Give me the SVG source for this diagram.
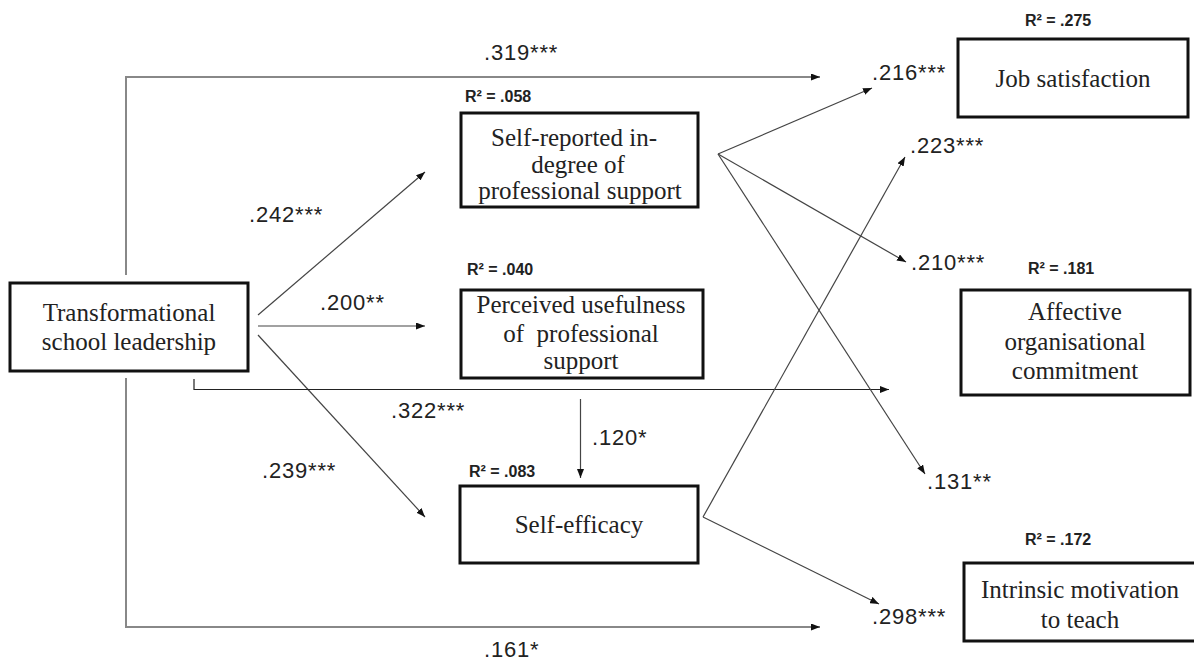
<svg xmlns="http://www.w3.org/2000/svg" width="1194" height="664" viewBox="0 0 1194 664">
<defs>
<marker id="arr" markerWidth="9" markerHeight="7" refX="9" refY="3.5" orient="auto" markerUnits="userSpaceOnUse">
<path d="M0,0 L9,3.5 L0,7 z" fill="#111"/>
</marker>
<style>
.box{fill:#fff;stroke:#111;stroke-width:3}
.nt{font-family:"Liberation Serif","Times New Roman",serif;font-size:25px;fill:#222;text-anchor:middle}
.r2{font-family:"Liberation Sans",Arial,sans-serif;font-size:16px;font-weight:bold;fill:#222}
.cf{font-family:"Liberation Sans",Arial,sans-serif;font-size:22px;fill:#222;letter-spacing:0.8px}
.ln{fill:none;stroke:#444;stroke-width:1.2}
.lg{fill:none;stroke:#888;stroke-width:2}
</style>
</defs>
<rect width="1194" height="664" fill="#fff"/>

<g id="connectors">
<polyline class="lg" points="126,275 126,77 820,77" marker-end="url(#arr)"/>
<polyline class="lg" points="126,378 126,627 820,627" marker-end="url(#arr)"/>
<line class="ln" x1="258" y1="315" x2="425" y2="172" marker-end="url(#arr)"/>
<line class="ln" x1="258" y1="326" x2="425" y2="326" marker-end="url(#arr)"/>
<line class="ln" x1="258" y1="335" x2="425" y2="517" marker-end="url(#arr)"/>
<polyline class="ln" points="194,379 194,389.5 889,389.5" marker-end="url(#arr)" style="stroke:#222"/>
<line class="ln" x1="580.5" y1="399" x2="580.5" y2="478" marker-end="url(#arr)"/>
<line class="ln" x1="718" y1="154" x2="872" y2="88" marker-end="url(#arr)"/>
<line class="ln" x1="718" y1="154" x2="906" y2="262" marker-end="url(#arr)"/>
<line class="ln" x1="718" y1="154" x2="925" y2="474" marker-end="url(#arr)"/>
<line class="ln" x1="703" y1="517" x2="905" y2="157" marker-end="url(#arr)"/>
<line class="ln" x1="703" y1="517" x2="879" y2="604" marker-end="url(#arr)"/>
<text class="cf" x="484" y="60">.319***</text>
<text class="cf" x="249" y="222">.242***</text>
<text class="cf" x="320" y="310">.200**</text>
<text class="cf" x="262" y="478">.239***</text>
<text class="cf" x="391" y="418">.322***</text>
<text class="cf" x="592" y="445">.120*</text>
<text class="cf" x="484" y="657">.161*</text>
<text class="cf" x="872" y="80">.216***</text>
<text class="cf" x="910" y="153">.223***</text>
<text class="cf" x="911" y="270">.210***</text>
<text class="cf" x="927" y="489">.131**</text>
<text class="cf" x="872" y="624">.298***</text>
</g>

<g id="node-tsl">
<rect class="box" x="10" y="283" width="238" height="88"/>
<text class="nt" x="129" y="321">Transformational</text>
<text class="nt" x="129" y="350">school leadership</text>
</g>

<g id="node-selfreported">
<text class="r2" x="465" y="102">R² = .058</text>
<rect class="box" x="461" y="113" width="237" height="94"/>
<text class="nt" x="574" y="146">Self-reported in-</text>
<text class="nt" x="578" y="173">degree of</text>
<text class="nt" x="580" y="199">professional support</text>
</g>

<g id="node-perceived">
<text class="r2" x="467" y="275">R² = .040</text>
<rect class="box" x="461" y="290" width="242" height="88"/>
<text class="nt" x="581" y="313">Perceived usefulness</text>
<text class="nt" x="581" y="342" style="white-space:pre">of  professional</text>
<text class="nt" x="581" y="369">support</text>
</g>

<g id="node-selfefficacy">
<text class="r2" x="469" y="477">R² = .083</text>
<rect class="box" x="460" y="486" width="238" height="77"/>
<text class="nt" x="579" y="533">Self-efficacy</text>
</g>

<g id="node-jobsat">
<text class="r2" x="1025" y="26">R² = .275</text>
<rect class="box" x="958" y="39" width="230" height="78"/>
<text class="nt" x="1073" y="87">Job satisfaction</text>
</g>

<g id="node-affective">
<text class="r2" x="1028" y="274">R² = .181</text>
<rect class="box" x="961" y="290" width="229" height="105"/>
<text class="nt" x="1075" y="320">Affective</text>
<text class="nt" x="1075" y="350">organisational</text>
<text class="nt" x="1075" y="379">commitment</text>
</g>

<g id="node-intrinsic">
<text class="r2" x="1025" y="545">R² = .172</text>
<rect class="box" x="964" y="563" width="232" height="78"/>
<text class="nt" x="1080" y="598">Intrinsic motivation</text>
<text class="nt" x="1080" y="628">to teach</text>
</g>
</svg>
